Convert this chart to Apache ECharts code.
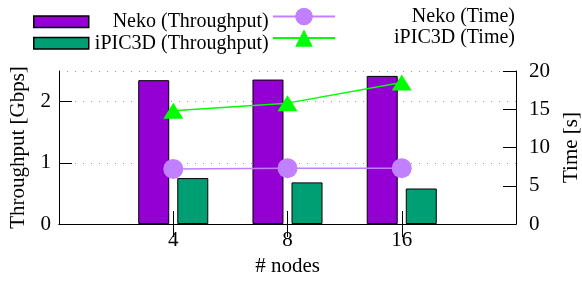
<!DOCTYPE html>
<html lang="en">
<head>
    <meta charset="UTF-8">
    <title>Neko vs iPIC3D</title>
    <script src="https://cdn.jsdelivr.net/npm/echarts@6/dist/echarts.min.js"></script>
</head>
<body style="margin:0">

<div id="main" style="width: 582px;height:284px;"></div>

</body>
<script>
    // x categories, with empty slots at both ends (gnuplot range)
    var nodes = ['', '4', '8', '16', ''];
    // throughput [Gbps]
    var nekoThroughput = [2.35, 2.36, 2.42];
    var ipicThroughput = [0.75, 0.68, 0.58];
    // time [s]
    var nekoTime = [7.2, 7.3, 7.3];
    var ipicTime = [14.8, 15.8, 18.5];

    var FONT = 'Liberation Serif';

    function pad(arr) {
        return ['-'].concat(arr, ['-']);
    }

    var mychart = echarts.init(document.getElementById('main'));

    var axisLine = {show: true, lineStyle: {color: '#000', width: 1}};
    var tick = {show: true, inside: true, length: 13, lineStyle: {color: '#000', width: 1}};
    var label = {fontFamily: FONT, fontSize: 21, color: '#000'};

    function legendItem(name, left, top, w, h, isBar) {
        return {
            data: [name],
            left: left,
            top: top,
            padding: 0,
            itemWidth: w,
            itemHeight: h,
            icon: isBar ? 'rect' : undefined,
            selectedMode: false,
            itemStyle: isBar ? {borderColor: '#000', borderWidth: 1.5} : {borderWidth: 0},
            formatter: '{t|{name}}',
            textStyle: {
                fontFamily: FONT,
                fontSize: 20,
                color: '#000',
                rich: {t: {width: 175, align: 'right', fontFamily: FONT, fontSize: 20, color: '#000'}}
            }
        };
    }

    var option = {
        animation: false,
        textStyle: {fontFamily: FONT},
        legend: [
            legendItem('Neko (Throughput)', 33, 11.75, 55, 11.5, true),
            legendItem('iPIC3D (Throughput)', 33, 33.25, 55, 11.5, true),
            legendItem('Neko (Time)', 272, 6.5, 62, 22, false),
            legendItem('iPIC3D (Time)', 272, 28, 62, 22, false)
        ],
        grid: {left: 59, right: 66, top: 71, bottom: 60, containLabel: false, outerBoundsMode: 'none'},
        xAxis: [
            {
                type: 'category',
                data: nodes,
                boundaryGap: false,
                position: 'bottom',
                name: '# nodes',
                nameLocation: 'middle',
                nameGap: 31,
                nameTextStyle: label,
                axisLine: axisLine,
                axisTick: Object.assign({}, tick, {
                    interval: function (i, v) { return v !== ''; }
                }),
                axisLabel: Object.assign({}, label, {margin: 6}),
                splitLine: {show: false}
            },
            {
                type: 'category',
                data: nodes,
                boundaryGap: false,
                position: 'top',
                axisLine: axisLine,
                axisTick: Object.assign({}, tick, {
                    interval: function (i, v) { return v !== ''; }
                }),
                axisLabel: {show: false},
                splitLine: {show: false}
            }
        ],
        yAxis: [
            {
                type: 'value',
                min: 0,
                max: 2.5,
                interval: 1,
                name: 'Throughput [Gbps]',
                nameLocation: 'middle',
                nameGap: 30,
                nameTextStyle: label,
                axisLine: axisLine,
                axisTick: tick,
                axisLabel: Object.assign({}, label, {margin: 8, showMaxLabel: false}),
                splitLine: {show: true, lineStyle: {color: '#999', width: 1, type: [1, 7]}}
            },
            {
                type: 'value',
                min: 0,
                max: 20,
                interval: 5,
                position: 'right',
                name: 'Time [s]',
                nameLocation: 'middle',
                nameGap: 44,
                nameTextStyle: label,
                axisLine: axisLine,
                axisTick: tick,
                axisLabel: Object.assign({}, label, {margin: 13}),
                splitLine: {show: false}
            }
        ],
        series: [
            {
                name: 'Neko (Throughput)',
                type: 'bar',
                barWidth: 31,
                barGap: '26%',
                itemStyle: {color: '#9400d3', borderColor: '#000', borderWidth: 1},
                data: pad(nekoThroughput)
            },
            {
                name: 'iPIC3D (Throughput)',
                type: 'bar',
                barWidth: 31,
                itemStyle: {color: '#009e73', borderColor: '#000', borderWidth: 1},
                data: pad(ipicThroughput)
            },
            {
                name: 'Neko (Time)',
                type: 'line',
                yAxisIndex: 1,
                symbol: 'circle',
                symbolSize: 20,
                lineStyle: {color: '#c080ff', width: 1.5},
                itemStyle: {color: '#c080ff'},
                data: pad(nekoTime)
            },
            {
                name: 'iPIC3D (Time)',
                type: 'line',
                yAxisIndex: 1,
                symbol: 'triangle',
                symbolSize: [20, 16],
                lineStyle: {color: '#00ff00', width: 1.5},
                itemStyle: {color: '#00ff00'},
                data: pad(ipicTime)
            }
        ]
    };

    mychart.setOption(option);

</script>
</html>
